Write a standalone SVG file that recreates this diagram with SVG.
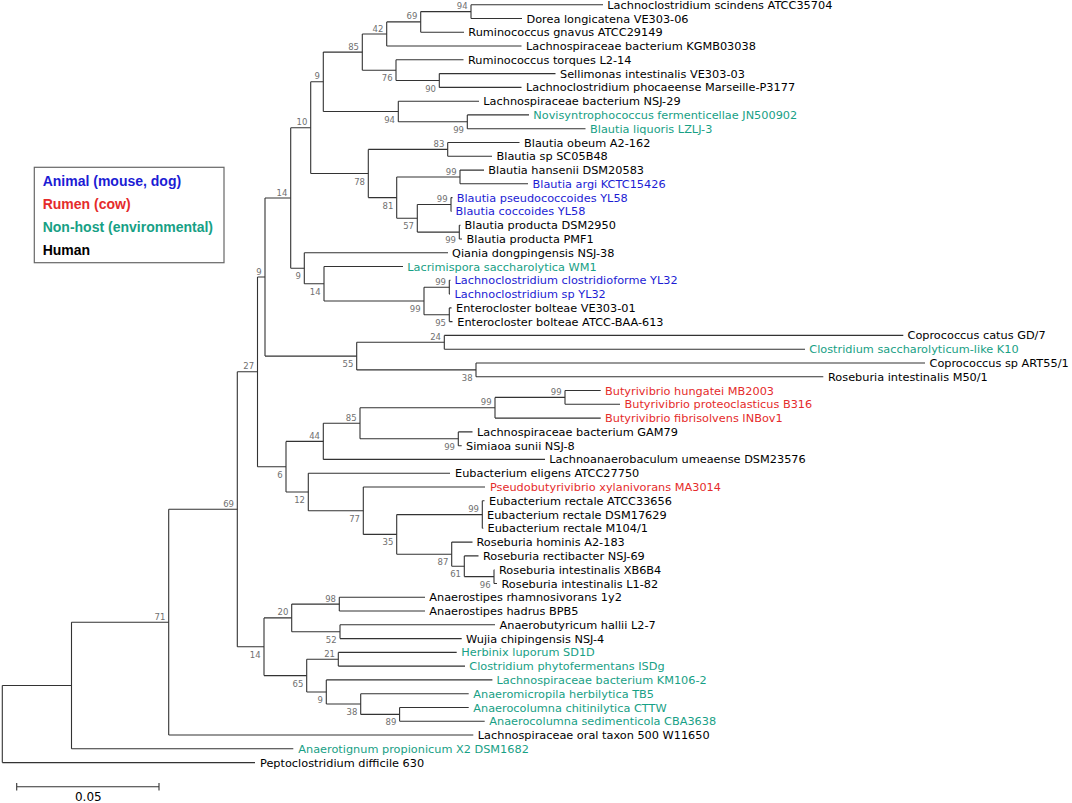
<svg xmlns="http://www.w3.org/2000/svg" width="1072" height="803" viewBox="0 0 1072 803">
<style>
.br{fill:none;stroke:#333;stroke-width:1.1}
.lf{font-family:"DejaVu Sans","Liberation Sans",sans-serif;font-size:11.3px;fill:#000}
.bs{font-family:"DejaVu Sans","Liberation Sans",sans-serif;font-size:8.5px;fill:#707070;text-anchor:end}
.lg{font-family:"Liberation Sans",Arial,sans-serif;font-size:14px;font-weight:bold}
.an{fill:#1c1cd4}
.ru{fill:#e52b2b}
.nh{fill:#17a085}
.hu{fill:#000}
.sc{font-family:"DejaVu Sans","Liberation Sans",sans-serif;font-size:12px;fill:#000;text-anchor:middle}
</style>
<rect width="1072" height="803" fill="#fff"/>
<g id="connectors" class="br">
<path d="M471 4.7V18.5M471 4.7H603M471 18.5H522"/>
<path d="M420.7 11.6V32.3M420.7 11.6H471M420.7 32.3H464"/>
<path d="M386.7 21.9V46M386.7 21.9H420.7M386.7 46H521.5"/>
<path d="M439.3 73.6V87.4M439.3 73.6H555.5M439.3 87.4H521.5"/>
<path d="M396 59.8V80.5M396 59.8H463.5M396 80.5H439.3"/>
<path d="M362.3 34V70.2M362.3 34H386.7M362.3 70.2H396"/>
<path d="M467.3 114.9V128.7M467.3 114.9H529M467.3 128.7H585.5"/>
<path d="M398.3 101.2V121.8M398.3 101.2H479M398.3 121.8H467.3"/>
<path d="M323.3 52.1V111.5M323.3 52.1H362.3M323.3 111.5H398.3"/>
<path d="M447.7 142.5V156.3M447.7 142.5H519.5M447.7 156.3H492"/>
<path d="M460 170.1V183.8M460 170.1H484M460 183.8H528"/>
<path d="M451 197.6V211.4M451 197.6H452.5M451 211.4H451.5"/>
<path d="M459.3 225.2V239M459.3 225.2H460.5M459.3 239H462"/>
<path d="M417.3 204.5V232.1M417.3 204.5H451M417.3 232.1H459.3"/>
<path d="M396.7 177V218.3M396.7 177H460M396.7 218.3H417.3"/>
<path d="M368.3 149.4V197.6M368.3 149.4H447.7M368.3 197.6H396.7"/>
<path d="M310.7 81.8V173.5M310.7 81.8H323.3M310.7 173.5H368.3"/>
<path d="M449.3 280.3V294.1M449.3 280.3H450.5M449.3 294.1H450"/>
<path d="M449.3 307.9V321.6M449.3 307.9H451.5M449.3 321.6H452.5"/>
<path d="M424 287.2V314.8M424 287.2H449.3M424 314.8H449.3"/>
<path d="M324 266.5V301M324 266.5H403M324 301H424"/>
<path d="M304.3 252.7V283.8M304.3 252.7H448M304.3 283.8H324"/>
<path d="M290.7 127.7V268.2M290.7 127.7H310.7M290.7 268.2H304.3"/>
<path d="M444.3 335.4V349.2M444.3 335.4H903.3M444.3 349.2H805"/>
<path d="M476 363V376.8M476 363H925M476 376.8H823.3"/>
<path d="M356.7 342.3V369.9M356.7 342.3H444.3M356.7 369.9H476"/>
<path d="M265 198V356.1M265 198H290.7M265 356.1H356.7"/>
<path d="M565 390.5V404.3M565 390.5H600.7M565 404.3H620"/>
<path d="M495 397.4V418.1M495 397.4H565M495 418.1H600.7"/>
<path d="M458.3 431.9V445.7M458.3 431.9H472.5M458.3 445.7H461.7"/>
<path d="M360 407.8V438.8M360 407.8H495M360 438.8H458.3"/>
<path d="M323.3 423.3V459.4M323.3 423.3H360M323.3 459.4H545"/>
<path d="M482.3 500.8V528.3M482.3 500.8H484.5M482.3 514.6H482.5M482.3 528.3H483.3"/>
<path d="M494 569.7V583.5M494 569.7H494.5M494 583.5H497"/>
<path d="M464.3 555.9V576.6M464.3 555.9H478.5M464.3 576.6H494"/>
<path d="M451.7 542.1V566.2M451.7 542.1H472.5M451.7 566.2H464.3"/>
<path d="M396.7 514.6V554.2M396.7 514.6H482.3M396.7 554.2H451.7"/>
<path d="M363.3 487V534.4M363.3 487H485M363.3 534.4H396.7"/>
<path d="M308.3 473.2V510.7M308.3 473.2H450M308.3 510.7H363.3"/>
<path d="M286 441.4V492M286 441.4H323.3M286 492H308.3"/>
<path d="M257.5 277V466.7M257.5 277H265M257.5 466.7H286"/>
<path d="M339.3 597.2V611M339.3 597.2H425M339.3 611H425"/>
<path d="M340 624.8V638.6M340 624.8H495M340 638.6H461.7"/>
<path d="M291.7 604.1V631.7M291.7 604.1H339.3M291.7 631.7H340"/>
<path d="M338.3 652.4V666.1M338.3 652.4H456.7M338.3 666.1H465"/>
<path d="M399.6 707.5V721.3M399.6 707.5H468.7M399.6 721.3H484.7"/>
<path d="M360.7 693.7V714.4M360.7 693.7H468.7M360.7 714.4H399.6"/>
<path d="M326.3 679.9V704M326.3 679.9H492.4M326.3 704H360.7"/>
<path d="M306.7 659.3V692M306.7 659.3H338.3M306.7 692H326.3"/>
<path d="M264 617.9V675.6M264 617.9H291.7M264 675.6H306.7"/>
<path d="M237.3 371.8V646.8M237.3 371.8H257.5M237.3 646.8H264"/>
<path d="M168.7 509.3V735M168.7 509.3H237.3M168.7 735H473.3"/>
<path d="M71.5 622.2V748.8M71.5 622.2H168.7M71.5 748.8H293.3"/>
<path d="M2.3 685.5V762.6M2.3 685.5H71.5M2.3 762.6H255"/>
</g>
<g id="support" class="bs">
<text x="467.7" y="9.1">94</text>
<text x="417.4" y="19.4">69</text>
<text x="383.4" y="31.5">42</text>
<text x="359" y="49.6">85</text>
<text x="320" y="79.3">9</text>
<text x="392.7" y="81.2">76</text>
<text x="436" y="91.5">90</text>
<text x="395" y="122.5">94</text>
<text x="464" y="132.8">99</text>
<text x="307.4" y="125.2">10</text>
<text x="444.4" y="146.9">83</text>
<text x="365" y="184.5">78</text>
<text x="456.7" y="174.5">99</text>
<text x="393.4" y="208.6">81</text>
<text x="447.7" y="202">99</text>
<text x="414" y="229.3">57</text>
<text x="456" y="243.1">99</text>
<text x="287.4" y="195.5">14</text>
<text x="301" y="279.2">9</text>
<text x="320.7" y="294.8">14</text>
<text x="420.7" y="312">99</text>
<text x="446" y="284.7">99</text>
<text x="446" y="325.8">95</text>
<text x="261.7" y="274.5">9</text>
<text x="254.2" y="369.3">27</text>
<text x="353.4" y="367.1">55</text>
<text x="441" y="339.8">24</text>
<text x="472.7" y="380.9">38</text>
<text x="561.7" y="394.9">99</text>
<text x="491.7" y="405.3">99</text>
<text x="356.7" y="420.8">85</text>
<text x="320" y="438.9">44</text>
<text x="455" y="449.8">99</text>
<text x="282.7" y="477.7">6</text>
<text x="305" y="503">12</text>
<text x="360" y="521.7">77</text>
<text x="479" y="512.1">99</text>
<text x="393.4" y="545.4">35</text>
<text x="448.4" y="565.2">87</text>
<text x="461" y="577.2">61</text>
<text x="490.7" y="587.6">96</text>
<text x="234" y="506.8">69</text>
<text x="165.4" y="619.7">71</text>
<text x="260.7" y="657.8">14</text>
<text x="288.4" y="615.4">20</text>
<text x="336" y="601.6">98</text>
<text x="336.7" y="642.7">52</text>
<text x="335" y="656.8">21</text>
<text x="303.4" y="686.6">65</text>
<text x="323" y="703">9</text>
<text x="357.4" y="715">38</text>
<text x="396.3" y="725.4">89</text>
</g>
<g id="n1"><text class="lf hu" x="607.3" y="8.7">Lachnoclostridium scindens ATCC35704</text></g>
<g id="n2"><text class="lf hu" x="526.5" y="22.5">Dorea longicatena VE303-06</text></g>
<g id="n3"><text class="lf hu" x="468.3" y="36.3">Ruminococcus gnavus ATCC29149</text></g>
<g id="n4"><text class="lf hu" x="526" y="50">Lachnospiraceae bacterium KGMB03038</text></g>
<g id="n5"><text class="lf hu" x="468" y="63.8">Ruminococcus torques L2-14</text></g>
<g id="n6"><text class="lf hu" x="560" y="77.6">Sellimonas intestinalis VE303-03</text></g>
<g id="n7"><text class="lf hu" x="526" y="91.4">Lachnoclostridium phocaeense Marseille-P3177</text></g>
<g id="n8"><text class="lf hu" x="483.3" y="105.2">Lachnospiraceae bacterium NSJ-29</text></g>
<g id="n9"><text class="lf nh" x="533.3" y="118.9">Novisyntrophococcus fermenticellae JN500902</text></g>
<g id="n10"><text class="lf nh" x="590" y="132.7">Blautia liquoris LZLJ-3</text></g>
<g id="n11"><text class="lf hu" x="524" y="146.5">Blautia obeum A2-162</text></g>
<g id="n12"><text class="lf hu" x="496.5" y="160.3">Blautia sp SC05B48</text></g>
<g id="n13"><text class="lf hu" x="488.3" y="174.1">Blautia hansenii DSM20583</text></g>
<g id="n14"><text class="lf an" x="532.5" y="187.8">Blautia argi KCTC15426</text></g>
<g id="n15"><text class="lf an" x="456.7" y="201.6">Blautia pseudococcoides YL58</text></g>
<g id="n16"><text class="lf an" x="455.5" y="215.4">Blautia coccoides YL58</text></g>
<g id="n17"><text class="lf hu" x="464.5" y="229.2">Blautia producta DSM2950</text></g>
<g id="n18"><text class="lf hu" x="466.5" y="243">Blautia producta PMF1</text></g>
<g id="n19"><text class="lf hu" x="452" y="256.7">Qiania dongpingensis NSJ-38</text></g>
<g id="n20"><text class="lf nh" x="407.3" y="270.5">Lacrimispora saccharolytica WM1</text></g>
<g id="n21"><text class="lf an" x="454.5" y="284.3">Lachnoclostridium clostridioforme YL32</text></g>
<g id="n22"><text class="lf an" x="454.5" y="298.1">Lachnoclostridium sp YL32</text></g>
<g id="n23"><text class="lf hu" x="456" y="311.9">Enterocloster bolteae VE303-01</text></g>
<g id="n24"><text class="lf hu" x="457.3" y="325.6">Enterocloster bolteae ATCC-BAA-613</text></g>
<g id="n25"><text class="lf hu" x="907.5" y="339.4">Coprococcus catus GD/7</text></g>
<g id="n26"><text class="lf nh" x="809.3" y="353.2">Clostridium saccharolyticum-like K10</text></g>
<g id="n27"><text class="lf hu" x="929.5" y="367">Coprococcus sp ART55/1</text></g>
<g id="n28"><text class="lf hu" x="828" y="380.8">Roseburia intestinalis M50/1</text></g>
<g id="n29"><text class="lf ru" x="605" y="394.5">Butyrivibrio hungatei MB2003</text></g>
<g id="n30"><text class="lf ru" x="624.5" y="408.3">Butyrivibrio proteoclasticus B316</text></g>
<g id="n31"><text class="lf ru" x="605" y="422.1">Butyrivibrio fibrisolvens INBov1</text></g>
<g id="n32"><text class="lf hu" x="477" y="435.9">Lachnospiraceae bacterium GAM79</text></g>
<g id="n33"><text class="lf hu" x="466" y="449.7">Simiaoa sunii NSJ-8</text></g>
<g id="n34"><text class="lf hu" x="549.3" y="463.4">Lachnoanaerobaculum umeaense DSM23576</text></g>
<g id="n35"><text class="lf hu" x="455" y="477.2">Eubacterium eligens ATCC27750</text></g>
<g id="n36"><text class="lf ru" x="490" y="491">Pseudobutyrivibrio xylanivorans MA3014</text></g>
<g id="n37"><text class="lf hu" x="489" y="504.8">Eubacterium rectale ATCC33656</text></g>
<g id="n38"><text class="lf hu" x="487" y="518.6">Eubacterium rectale DSM17629</text></g>
<g id="n39"><text class="lf hu" x="487.5" y="532.3">Eubacterium rectale M104/1</text></g>
<g id="n40"><text class="lf hu" x="476.5" y="546.1">Roseburia hominis A2-183</text></g>
<g id="n41"><text class="lf hu" x="483" y="559.9">Roseburia rectibacter NSJ-69</text></g>
<g id="n42"><text class="lf hu" x="499" y="573.7">Roseburia intestinalis XB6B4</text></g>
<g id="n43"><text class="lf hu" x="501.5" y="587.5">Roseburia intestinalis L1-82</text></g>
<g id="n44"><text class="lf hu" x="429.3" y="601.2">Anaerostipes rhamnosivorans 1y2</text></g>
<g id="n45"><text class="lf hu" x="429.3" y="615">Anaerostipes hadrus BPB5</text></g>
<g id="n46"><text class="lf hu" x="499.5" y="628.8">Anaerobutyricum hallii L2-7</text></g>
<g id="n47"><text class="lf hu" x="466" y="642.6">Wujia chipingensis NSJ-4</text></g>
<g id="n48"><text class="lf nh" x="461.3" y="656.4">Herbinix luporum SD1D</text></g>
<g id="n49"><text class="lf nh" x="469.3" y="670.1">Clostridium phytofermentans ISDg</text></g>
<g id="n50"><text class="lf nh" x="496.5" y="683.9">Lachnospiraceae bacterium KM106-2</text></g>
<g id="n51"><text class="lf nh" x="473.3" y="697.7">Anaeromicropila herbilytica TB5</text></g>
<g id="n52"><text class="lf nh" x="473.3" y="711.5">Anaerocolumna chitinilytica CTTW</text></g>
<g id="n53"><text class="lf nh" x="489.3" y="725.3">Anaerocolumna sedimenticola CBA3638</text></g>
<g id="n54"><text class="lf hu" x="477.8" y="739">Lachnospiraceae oral taxon 500 W11650</text></g>
<g id="n55"><text class="lf nh" x="298.3" y="752.8">Anaerotignum propionicum X2 DSM1682</text></g>
<g id="n56"><text class="lf hu" x="260" y="766.6">Peptoclostridium difficile 630</text></g>
<g id="legend">
<rect x="34.3" y="167.3" width="189.7" height="95.4" fill="#fff" stroke="#666" stroke-width="1.2"/>
<text class="lg an" x="42.7" y="186">Animal (mouse, dog)</text>
<text class="lg ru" x="42.7" y="209.3">Rumen (cow)</text>
<text class="lg nh" x="42.7" y="232.3">Non-host (environmental)</text>
<text class="lg hu" x="42.7" y="255">Human</text>
</g>
<g id="scale-bar">
<path class="br" d="M16.7 786.7H159M16.7 783V790.4M159 783V790.4"/>
<text class="sc" x="88.3" y="800.5">0.05</text>
</g>
</svg>
